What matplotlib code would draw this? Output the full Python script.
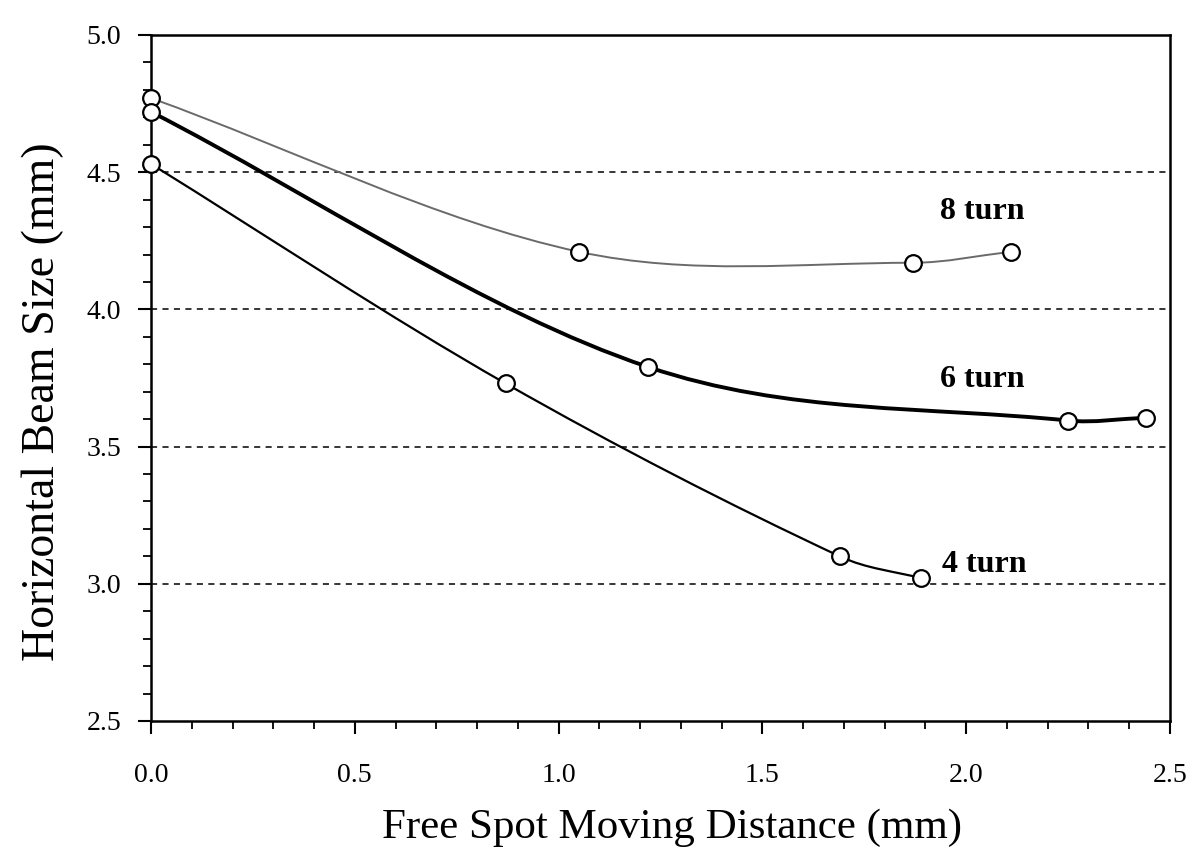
import numpy as np
import matplotlib
matplotlib.use("Agg")
import matplotlib.pyplot as plt
from matplotlib.path import Path
from matplotlib.patches import PathPatch
from matplotlib.ticker import MultipleLocator

# ---- data ----
x_8turn = [0.0, 1.05, 1.87, 2.11]
y_8turn = [4.77, 4.21, 4.17, 4.21]
x_6turn = [0.0, 1.22, 2.25, 2.44]
y_6turn = [4.72, 3.79, 3.595, 3.605]
x_4turn = [0.0, 0.87, 1.69, 1.89]
y_4turn = [4.53, 3.73, 3.10, 3.02]
series_labels = ["8 turn", "6 turn", "4 turn"]
label_pos = [(1.935, 4.355), (1.935, 3.745), (1.94, 3.07)]
x_ticks = [0.0, 0.5, 1.0, 1.5, 2.0, 2.5]
y_ticks = [2.5, 3.0, 3.5, 4.0, 4.5, 5.0]
grid_levels = [3.0, 3.5, 4.0, 4.5]

plt.rcParams['font.family'] = ['Liberation Serif', 'DejaVu Serif']

fig = plt.figure(figsize=(12.01, 8.49), dpi=100)
ax = fig.add_axes([151/1201, 1-721/849, (1170-151)/1201, (721-35)/849])
ax.set_xlim(0, 2.5)
ax.set_ylim(2.5, 5.0)


def smooth_path(xs, ys):
    """Smoothed line through the points: cubic Hermite (finite-difference
    slopes) expressed as Bezier segments."""
    x = np.asarray(xs, float)
    y = np.asarray(ys, float)
    n = len(x)
    m = np.empty(n)
    m[0] = (y[1] - y[0]) / (x[1] - x[0])
    m[-1] = (y[-1] - y[-2]) / (x[-1] - x[-2])
    for i in range(1, n - 1):
        m[i] = (y[i + 1] - y[i - 1]) / (x[i + 1] - x[i - 1])
    verts = [(x[0], y[0])]
    codes = [Path.MOVETO]
    for i in range(n - 1):
        h = x[i + 1] - x[i]
        verts += [(x[i] + h / 3, y[i] + m[i] * h / 3),
                  (x[i + 1] - h / 3, y[i + 1] - m[i + 1] * h / 3),
                  (x[i + 1], y[i + 1])]
        codes += [Path.CURVE4] * 3
    return Path(verts, codes)


for lvl in grid_levels:
    ax.axhline(lvl, color='black', lw=1.1, ls=(0, (4, 3.5)), zorder=1)

styles = [
    (x_8turn, y_8turn, dict(color='#6a6a6a', lw=1.4)),
    (x_6turn, y_6turn, dict(color='black', lw=2.8)),
    (x_4turn, y_4turn, dict(color='black', lw=1.6)),
]
for xs, ys, st in styles:
    patch = PathPatch(smooth_path(xs, ys), facecolor='none', edgecolor=st['color'],
                      lw=st['lw'], zorder=2, capstyle='round', joinstyle='round')
    ax.add_patch(patch)
    ax.plot(xs, ys, linestyle='none', marker='o', ms=12, mfc='white', mec='black',
            mew=1.6, zorder=3, clip_on=False)

for lab, (lx, ly) in zip(series_labels, label_pos):
    ax.text(lx, ly, lab, fontsize=23, fontweight='bold', ha='left', va='center')

ax.set_xticks(x_ticks)
ax.set_yticks(y_ticks)
ax.set_xticklabels([f"{v:.1f}" for v in x_ticks])
ax.set_yticklabels([f"{v:.1f}" for v in y_ticks])
ax.xaxis.set_minor_locator(MultipleLocator(0.1))
ax.yaxis.set_minor_locator(MultipleLocator(0.1))
ax.tick_params(which='major', direction='out', length=9.5, width=1.5, labelsize=20,
               top=False, right=False)
ax.tick_params(which='minor', direction='out', length=5.5, width=1.3, top=False, right=False)
ax.tick_params(axis='x', which='major', pad=21)
ax.tick_params(axis='y', which='major', pad=12)
for s in ax.spines.values():
    s.set_linewidth(1.8)

ax.set_xlabel("Free Spot Moving Distance (mm)", fontsize=31)
ax.set_ylabel("Horizontal Beam Size (mm)", fontsize=33)
ax.xaxis.set_label_coords(0.511, -0.128)
ax.yaxis.set_label_coords(-0.085, 0.465)

fig.savefig("out.png", dpi=100)
